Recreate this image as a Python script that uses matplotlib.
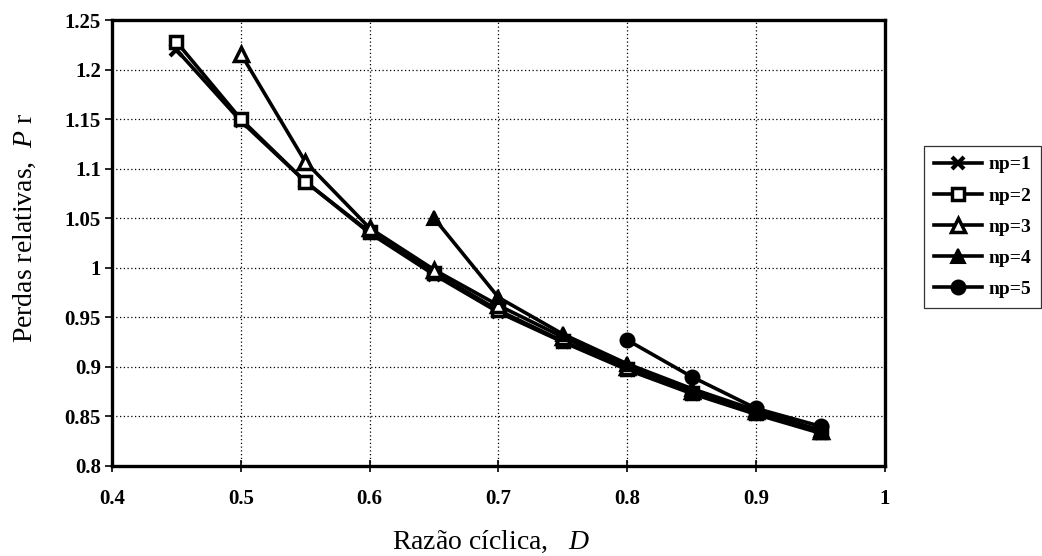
import numpy as np
import matplotlib
matplotlib.use('Agg')
import matplotlib.pyplot as plt

plt.rcParams['font.family'] = ['Liberation Serif', 'DejaVu Serif']
plt.rcParams['mathtext.fontset'] = 'custom'
plt.rcParams['mathtext.rm'] = 'Liberation Serif'
plt.rcParams['mathtext.it'] = 'Liberation Serif:italic'

# data
D = [0.45, 0.5, 0.55, 0.6, 0.65, 0.7, 0.75, 0.8, 0.85, 0.9, 0.95]
np1 = [1.220, 1.148, 1.087, 1.035, 0.993, 0.955, 0.925, 0.897, 0.873, 0.852, 0.833]
np2 = [1.228, 1.150, 1.087, 1.036, 0.995, 0.957, 0.926, 0.898, 0.874, 0.853, 0.834]
np3 = [None, 1.216, 1.107, 1.040, 0.998, 0.962, 0.930, 0.900, 0.876, 0.855, 0.835]
np4 = [None, None, None, None, 1.050, 0.970, 0.933, 0.903, 0.878, 0.856, 0.836]
np5 = [None, None, None, None, None, None, None, 0.927, 0.890, 0.858, 0.840]

labels = ['np=1', 'np=2', 'np=3', 'np=4', 'np=5']
x_ticks = [0.4, 0.5, 0.6, 0.7, 0.8, 0.9, 1.0]
x_ticklabels = ['0.4', '0.5', '0.6', '0.7', '0.8', '0.9', '1']
y_ticks = [0.8, 0.85, 0.9, 0.95, 1.0, 1.05, 1.1, 1.15, 1.2, 1.25]
y_ticklabels = ['0.8', '0.85', '0.9', '0.95', '1', '1.05', '1.1', '1.15', '1.2', '1.25']


def series(vals):
    x = np.array([d for d, v in zip(D, vals) if v is not None])
    y = np.array([v for v in vals if v is not None])
    return x, y


fig = plt.figure(figsize=(10.42, 5.56), dpi=100)
ax = fig.add_axes([0.1075, 0.162, 0.7418, 0.802])

styles = [
    dict(marker='x', markersize=9, markeredgewidth=3, markerfacecolor='black'),
    dict(marker='s', markersize=9, markeredgewidth=2.5, markerfacecolor='white'),
    dict(marker='^', markersize=10, markeredgewidth=2.5, markerfacecolor='white'),
    dict(marker='^', markersize=10, markeredgewidth=1.5, markerfacecolor='black'),
    dict(marker='o', markersize=10, markeredgewidth=1.5, markerfacecolor='black'),
]

for vals, lab, st in zip([np1, np2, np3, np4, np5], labels, styles):
    x, y = series(vals)
    ax.plot(x, y, color='black', linewidth=2.6, markeredgecolor='black',
            label=lab, **st)

ax.set_xlim(0.4, 1.0)
ax.set_ylim(0.8, 1.25)
ax.set_xticks(x_ticks)
ax.set_xticklabels(x_ticklabels)
ax.set_yticks(y_ticks)
ax.set_yticklabels(y_ticklabels)

ax.grid(True, color='black', linestyle=(0, (1, 2)), linewidth=0.9)
ax.set_axisbelow(True)

for s in ax.spines.values():
    s.set_linewidth(2.4)

ax.tick_params(axis='x', direction='inout', length=9, width=1.2, pad=12, labelsize=15)
ax.tick_params(axis='y', direction='out', length=5, width=1.2, pad=3, labelsize=15)
for t in ax.get_xticklabels() + ax.get_yticklabels():
    t.set_fontweight('bold')

fig.text(0.471, 0.025, 'Razão cíclica,   $D$', ha='center', va='center', fontsize=20)
fig.text(0.024, 0.59, 'Perdas relativas,  $P$ r', ha='center', va='center',
         rotation=90, fontsize=20)

leg = fig.legend(loc='upper left', bbox_to_anchor=(924 / 1042, 1 - 146 / 556),
                 frameon=True, fancybox=False, handlelength=2.5, handletextpad=0.3,
                 labelspacing=0.7, borderpad=0.5, borderaxespad=0,
                 prop={'weight': 'bold', 'size': 14})
leg.get_frame().set_edgecolor('black')
leg.get_frame().set_linewidth(0.9)

fig.savefig('out.png', dpi=100)
